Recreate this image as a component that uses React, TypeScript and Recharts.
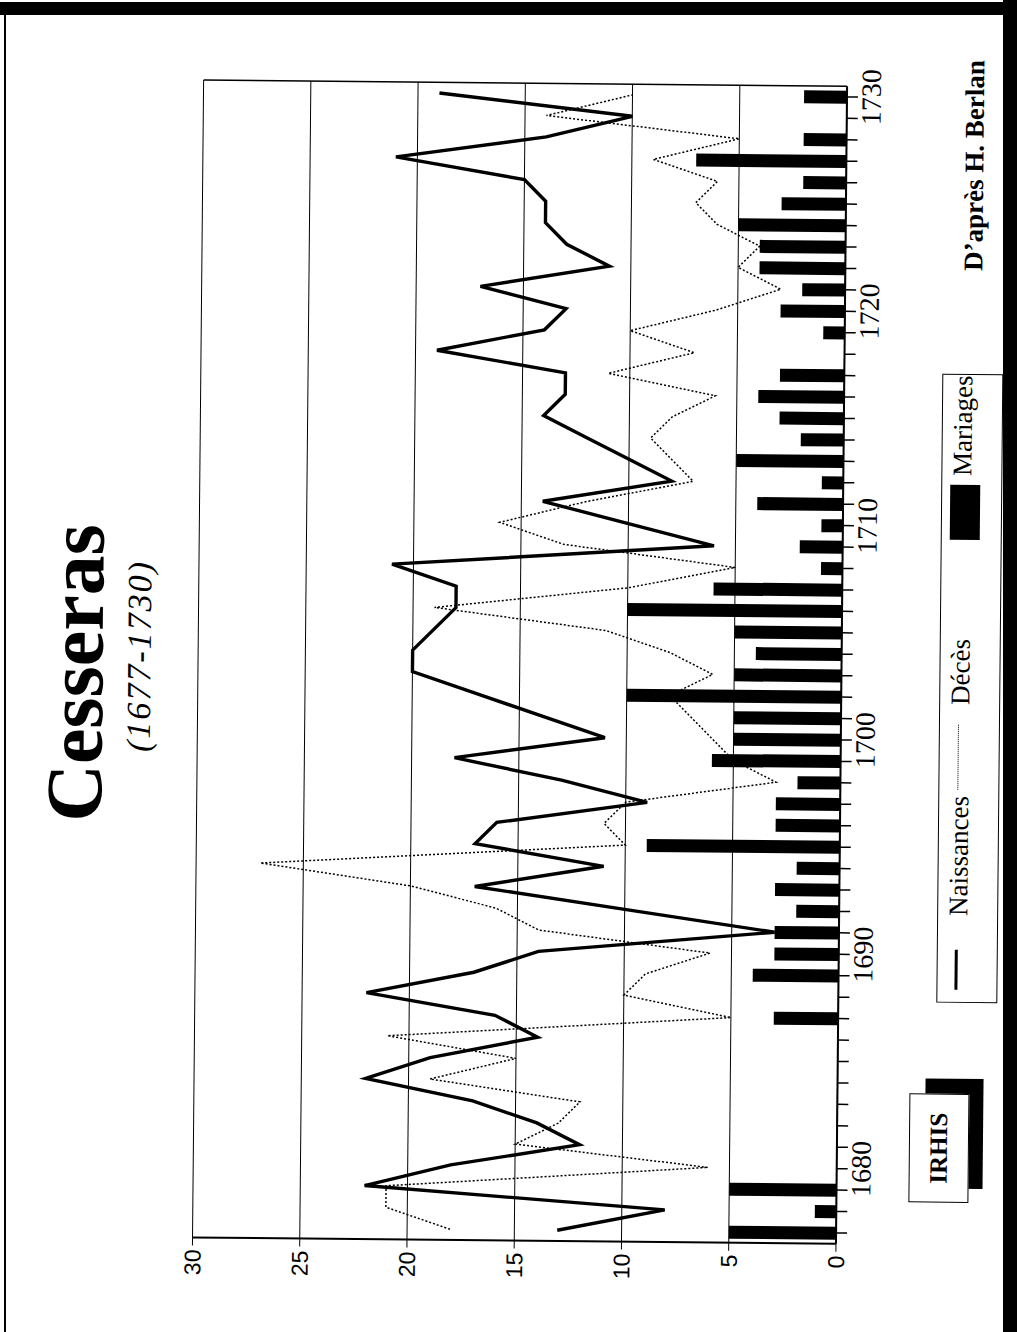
import React from 'react';
import { ComposedChart, Bar, Line, XAxis, YAxis, CartesianGrid, ReferenceLine } from 'recharts';

const years = [
  1677, 1678, 1679, 1680, 1681, 1682, 1683, 1684, 1685, 1686,
  1687, 1688, 1689, 1690, 1691, 1692, 1693, 1694, 1695, 1696,
  1697, 1698, 1699, 1700, 1701, 1702, 1703, 1704, 1705, 1706,
  1707, 1708, 1709, 1710, 1711, 1712, 1713, 1714, 1715, 1716,
  1717, 1718, 1719, 1720, 1721, 1722, 1723, 1724, 1725, 1726,
  1727, 1728, 1729, 1730,
];

const naissances = [
  13, 8, 22, 18, 12, 14, 17, 22, 19, 14,
  16, 22, 17, 14, 3, 10, 17, 11, 17, 16,
  9, 13, 18, 11, 14, 17, 20, 20, 19, 18,
  18, 21, 6, 10, 14, 8, 10, 12, 14, 13,
  13, 19, 14, 13, 17, 11, 13, 14, 14, 15,
  21, 14, 10, 19,
];

const deces = [
  18, 21, 21, 6, 15, 13, 12, 19, 15, 21,
  5, 10, 9, 6, 14, 16, 20, 27, 10, 11,
  10, 3, 5, 6, 7, 8, 6, 8, 11, 19,
  10, 5, 13, 16, 12, 7, 8, 9, 8, 6,
  11, 7, 10, 6, 3, 5, 4, 6, 7, 6,
  9, 5, 14, 10,
];

const mariages = [
  5, 1, 5, 0, 0, 0, 0, 0, 0, 0,
  3, 0, 4, 3, 3, 2, 3, 2, 9, 3,
  3, 2, 6, 5, 5, 10, 5, 4, 5, 10,
  6, 1, 2, 1, 4, 1, 5, 2, 3, 4,
  3, 0, 1, 3, 2, 4, 4, 5, 3, 2,
  7, 2, 0, 2,
];

const decadeLabels = [1680, 1690, 1700, 1710, 1720, 1730];
const valueTicks = [0, 5, 10, 15, 20, 25, 30];

const data = years.map((year, i) => ({
  year,
  naissances: naissances[i],
  deces: deces[i],
  mariages: mariages[i],
}));

const serif = '"Liberation Serif", "Times New Roman", serif';
const sans = '"Liberation Sans", Arial, sans-serif';

// the page is drawn upright, then turned to match the scanned (landscape) sheet
export default function App() {
  return (
    <div style={{ position: 'absolute', left: 0, top: 0, width: 1017, height: 1332, overflow: 'hidden', background: '#fff' }}>
      <div
        style={{
          position: 'absolute',
          left: -157.5,
          top: 157.5,
          width: 1332,
          height: 1017,
          transform: 'rotate(-89.45deg)',
          transformOrigin: '50% 50%',
          fontFamily: serif,
          color: '#000',
        }}
      >
        <ComposedChart
          width={1332}
          height={1017}
          data={data}
          margin={{ top: 197.5, right: 82.5, bottom: 116, left: 0 }}
        >
          <CartesianGrid vertical={false} stroke="#000" strokeWidth={1} />
          <XAxis
            type="number"
            dataKey="year"
            domain={[1676.5, 1730.5]}
            ticks={years}
            interval={0}
            height={60}
            tickSize={11}
            tickMargin={3}
            axisLine={{ stroke: '#000', strokeWidth: 2 }}
            tickLine={{ stroke: '#000', strokeWidth: 1.5 }}
            tick={{ fill: '#000', fontSize: 28, fontFamily: serif }}
            tickFormatter={(v: number) => (decadeLabels.includes(v) ? String(v) : '')}
          />
          <YAxis
            type="number"
            domain={[0, 30]}
            ticks={valueTicks}
            interval={0}
            width={92}
            tickSize={8}
            tickMargin={4}
            axisLine={{ stroke: '#000', strokeWidth: 2 }}
            tickLine={{ stroke: '#000', strokeWidth: 1 }}
            tick={{ fill: '#000', fontSize: 23, fontFamily: sans }}
          />
          <ReferenceLine x={1730.5} stroke="#000" strokeWidth={1.5} />
          <Bar dataKey="mariages" fill="#000" barSize={13} isAnimationActive={false} />
          <Line
            type="linear"
            dataKey="deces"
            stroke="#000"
            strokeWidth={1.5}
            strokeDasharray="2 2"
            dot={false}
            isAnimationActive={false}
          />
          <Line
            type="linear"
            dataKey="naissances"
            stroke="#000"
            strokeWidth={3.4}
            dot={false}
            isAnimationActive={false}
          />
        </ComposedChart>

        <div style={{ position: 'absolute', left: 455.5, top: 35, width: 400, textAlign: 'center', fontSize: 80, fontWeight: 700, lineHeight: 1 }}>
          Cesseras
        </div>
        <div style={{ position: 'absolute', left: 473, top: 121.5, width: 400, textAlign: 'center', fontSize: 34, fontStyle: 'italic', letterSpacing: 2, lineHeight: 1 }}>
          (1677-1730)
        </div>

        <div style={{ position: 'absolute', left: 1066, top: 956, fontSize: 27, fontWeight: 700, lineHeight: 1, whiteSpace: 'nowrap' }}>
          D’après H. Berlan
        </div>

        {/* legend */}
        <div style={{ position: 'absolute', left: 334, top: 939, width: 629, height: 61, boxSizing: 'border-box', border: '1.5px solid #000', background: '#fff' }}>
          <div style={{ position: 'absolute', left: 12, top: 17, width: 40, height: 3, background: '#000' }} />
          <div style={{ position: 'absolute', left: 86, top: 7, fontSize: 27, lineHeight: 1, whiteSpace: 'nowrap' }}>Naissances</div>
          <div style={{ position: 'absolute', left: 212, top: 18, width: 65, height: 0, borderTop: '1.5px dotted #000' }} />
          <div style={{ position: 'absolute', left: 297, top: 7, fontSize: 27, lineHeight: 1, whiteSpace: 'nowrap' }}>Décès</div>
          <div style={{ position: 'absolute', left: 462, top: 8, width: 55, height: 30, background: '#000' }} />
          <div style={{ position: 'absolute', left: 526, top: 7, fontSize: 27, lineHeight: 1, whiteSpace: 'nowrap' }}>Mariages</div>
        </div>

        {/* IRHIS mark */}
        <div style={{ position: 'absolute', left: 148, top: 929, width: 110, height: 58, background: '#000' }} />
        <div
          style={{
            position: 'absolute',
            left: 134,
            top: 913,
            width: 109,
            height: 60,
            boxSizing: 'border-box',
            border: '1.5px solid #000',
            background: '#fff',
            display: 'flex',
            alignItems: 'center',
            justifyContent: 'center',
            fontSize: 25,
            fontWeight: 700,
          }}
        >
          IRHIS
        </div>
      </div>

      {/* scanned sheet edges */}
      <div style={{ position: 'absolute', left: 0, top: 2, width: 1017, height: 13, background: '#000' }} />
      <div style={{ position: 'absolute', left: 1003, top: 0, width: 14, height: 1332, background: '#000' }} />
      <div style={{ position: 'absolute', left: 4, top: 10, width: 2, height: 1322, background: '#000' }} />
    </div>
  );
}
